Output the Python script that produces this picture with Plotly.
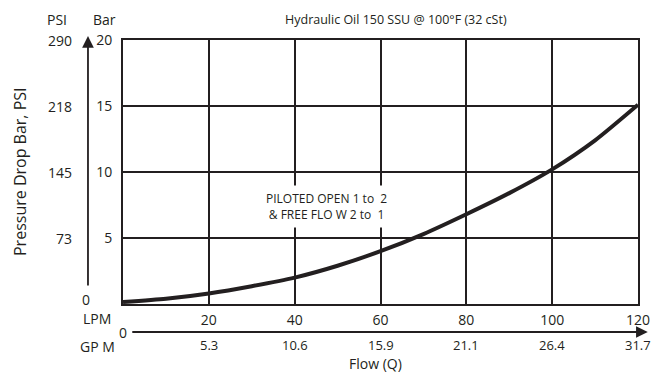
import plotly.graph_objects as go

# data
flow_lpm = [0, 10, 20, 30, 40, 50, 60, 70, 80, 90, 100, 110, 120]
drop_bar = [0.15, 0.4, 0.8, 1.35, 2.0, 2.9, 4.0, 5.3, 6.8, 8.4, 10.2, 12.4, 15.1]
lpm_ticks = [20, 40, 60, 80, 100, 120]
gpm_labels = ["5.3", "10.6", "15.9", "21.1", "26.4", "31.7"]
bar_ticks = [5, 10, 15, 20]
psi_labels = ["73", "145", "218", "290"]

FONT = "Open Sans"
INK = "#231f20"

fig = go.Figure()
fig.add_trace(go.Scatter(x=flow_lpm, y=drop_bar, mode="lines",
                         line=dict(color=INK, width=4, shape="spline", smoothing=0.6),
                         hoverinfo="skip", showlegend=False))

fig.update_layout(
    width=659, height=365,
    margin=dict(l=115, r=29, t=32, b=69),
    paper_bgcolor="white", plot_bgcolor="white",
    font=dict(family=FONT, color=INK, size=14),
    xaxis=dict(range=[0, 120], tickvals=lpm_ticks, ticktext=[str(v) for v in lpm_ticks],
               showgrid=True, gridcolor=INK, gridwidth=1.5, zeroline=False,
               showline=True, linecolor=INK, linewidth=2, mirror=True,
               ticks="", ticklabelstandoff=2, tickfont=dict(size=14, family=FONT, color=INK),
               fixedrange=True),
    yaxis=dict(range=[0, 20], tickvals=bar_ticks, ticktext=[str(v) for v in bar_ticks],
               showgrid=True, gridcolor=INK, gridwidth=1.5, zeroline=False,
               showline=True, linecolor=INK, linewidth=2, mirror=True,
               ticks="", ticklabelstandoff=6, tickfont=dict(size=14, family=FONT, color=INK),
               fixedrange=True),
)

# PSI labels
for b, p in zip(bar_ticks, psi_labels):
    fig.add_annotation(x=-0.095, xref="paper", y=b, yref="y", text=p, showarrow=False,
                       xanchor="right", yanchor="middle", font=dict(size=14, family=FONT, color=INK))
fig.add_annotation(x=-0.072, xref="paper", y=0, yref="y", text="0", showarrow=False,
                   xanchor="center", yanchor="middle", yshift=5,
                   font=dict(size=14, family=FONT, color=INK))

# header labels
fig.add_annotation(x=-0.128, xref="paper", y=1, yref="paper", yshift=21, text="PSI", showarrow=False,
                   xanchor="center", yanchor="middle", font=dict(size=14, family=FONT, color=INK))
fig.add_annotation(x=-0.035, xref="paper", y=1, yref="paper", yshift=21, text="Bar", showarrow=False,
                   xanchor="center", yanchor="middle", font=dict(size=14, family=FONT, color=INK))
fig.add_annotation(x=0.53, xref="paper", y=1, yref="paper", yshift=21,
                   text="Hydraulic Oil 150 SSU @ 100°F (32 cSt)", showarrow=False,
                   xanchor="center", yanchor="middle", font=dict(size=12.5, family=FONT, color=INK))

# vertical arrow axis
fig.add_annotation(x=-0.068, xref="paper", y=1, yref="paper", yshift=4,
                   ax=0, ay=251,
                   text="", showarrow=True, arrowhead=2, arrowsize=1.3, arrowwidth=1.8, arrowcolor=INK)

# y title
fig.add_annotation(x=-0.2, xref="paper", y=0.5, yref="paper", text="Pressure Drop Bar, PSI",
                   textangle=-90, showarrow=False, xanchor="center", yanchor="middle",
                   font=dict(size=16, family=FONT, color=INK))

# bottom axis stuff
fig.add_annotation(x=-0.05, xref="paper", y=0, yref="paper", yshift=-14, text="LPM", showarrow=False,
                   xanchor="center", yanchor="middle", font=dict(size=14, family=FONT, color=INK))
fig.add_annotation(x=0, xref="x", y=0, yref="paper", yshift=-28, text="0", showarrow=False,
                   xanchor="center", yanchor="middle", font=dict(size=14, family=FONT, color=INK))
fig.add_annotation(x=1.019, xref="paper", y=0, yref="paper", yshift=-28,
                   ax=-517, ay=0,
                   text="", showarrow=True, arrowhead=2, arrowsize=1.3, arrowwidth=1.8, arrowcolor=INK)
fig.add_annotation(x=-0.05, xref="paper", y=0, yref="paper", yshift=-42, text="GP M", showarrow=False,
                   xanchor="center", yanchor="middle", font=dict(size=14, family=FONT, color=INK))
for v, g in zip(lpm_ticks, gpm_labels):
    fig.add_annotation(x=v, xref="x", y=0, yref="paper", yshift=-41, text=g, showarrow=False,
                       xanchor="center", yanchor="middle", font=dict(size=13, family=FONT, color=INK))
fig.add_annotation(x=0.49, xref="paper", y=0, yref="paper", yshift=-59, text="Flow (Q)", showarrow=False,
                   xanchor="center", yanchor="middle", borderpad=0,
                   font=dict(size=14, family=FONT, color=INK))

# curve label
fig.add_annotation(x=47.5, xref="x", y=7.35, yref="y",
                   text="PILOTED OPEN 1 to  2<br>& FREE FLO W 2 to  1", showarrow=False,
                   xanchor="center", yanchor="middle", align="center", bgcolor="white",
                   borderpad=4, font=dict(size=12, family=FONT, color=INK))

fig.write_html("out.html")
